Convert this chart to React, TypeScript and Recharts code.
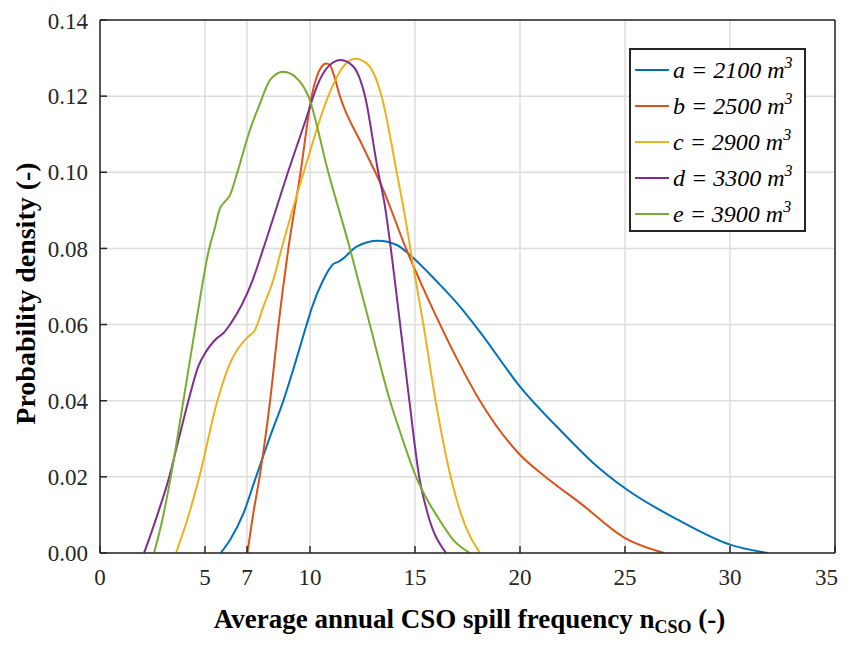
import React from "react";
import { LineChart, Line, XAxis, YAxis, CartesianGrid, Legend, Label } from "recharts";

// axis ticks
const xTicks = [0, 5, 7, 10, 15, 20, 25, 30, 35];
const yTicks = [0, 0.02, 0.04, 0.06, 0.08, 0.1, 0.12, 0.14];

// legend
const seriesKeys = ["a", "b", "c", "d", "e"];
const volumes = [2100, 2500, 2900, 3300, 3900];
const colors = ["#0072BD", "#D95319", "#EDB120", "#7E2F8E", "#77AC30"];

// kernel density curves, [spill frequency, density]
const curveA: [number, number][] = [
  [5.75, 0], [6.19, 0.0034], [6.83, 0.0104], [7.38, 0.0192], [8.1, 0.0306], [8.73, 0.04],
  [9.3, 0.05], [9.84, 0.06], [10.08, 0.0643], [10.63, 0.0717], [11.11, 0.0759], [11.35, 0.0765],
  [11.59, 0.0774], [12.22, 0.0805], [13.25, 0.082], [14.13, 0.0809], [14.76, 0.0783],
  [16.06, 0.0712], [17.14, 0.0647], [18.09, 0.0581], [20, 0.0437], [22.07, 0.0314],
  [23.5, 0.0236], [25, 0.017], [27.66, 0.0083], [30, 0.0022], [31.8, 0],
];
const curveB: [number, number][] = [
  [7.02, 0], [7.3, 0.0104], [7.6, 0.02], [8.1, 0.04], [8.5, 0.06], [8.97, 0.08], [9.55, 0.1],
  [10.08, 0.12], [10.56, 0.1278], [10.76, 0.1286], [10.95, 0.1282], [11.11, 0.126],
  [11.43, 0.1199], [12.5, 0.107], [13.49, 0.0954], [14.57, 0.08], [15.87, 0.0638],
  [17.0, 0.051], [18.09, 0.04], [20, 0.0258], [21.28, 0.0197], [22.87, 0.0131],
  [25, 0.0039], [26.86, 0],
];
const curveC: [number, number][] = [
  [3.62, 0], [4.2, 0.0095], [4.73, 0.02], [5.59, 0.04], [6.19, 0.0498], [6.83, 0.0555],
  [7.06, 0.0568], [7.38, 0.0586], [7.78, 0.0647], [8.25, 0.0717], [8.65, 0.08], [9.7, 0.1],
  [10.87, 0.12], [11.59, 0.1278], [12.14, 0.1298], [12.7, 0.1286], [13.41, 0.12],
  [14.13, 0.1], [14.44, 0.091], [15.0, 0.0727], [15.4, 0.06], [15.98, 0.04],
  [16.7, 0.02], [17.18, 0.0104], [18.1, 0],
];
const curveD: [number, number][] = [
  [2.1, 0], [2.7, 0.0095], [3.3, 0.02], [3.75, 0.03], [4.21, 0.04], [4.68, 0.049], [5.05, 0.0529],
  [5.4, 0.0555], [5.63, 0.0567], [5.87, 0.0577], [6.19, 0.06], [7.27, 0.0717], [7.78, 0.08],
  [8.95, 0.1], [10.0, 0.1172], [10.16, 0.12], [10.79, 0.1273], [11.46, 0.1295],
  [12.06, 0.1278], [12.62, 0.12], [13.25, 0.1], [13.52, 0.0927], [14.21, 0.0638],
  [14.73, 0.04], [15.2, 0.02], [15.6, 0.0104], [16.48, 0],
];
const curveE: [number, number][] = [
  [2.57, 0], [2.94, 0.008], [3.37, 0.02], [3.97, 0.04], [4.56, 0.06], [5.2, 0.08],
  [5.45, 0.085], [5.71, 0.0905], [5.95, 0.0923], [6.19, 0.094], [6.54, 0.1], [7.14, 0.1111],
  [7.62, 0.1181], [8.1, 0.1243], [8.73, 0.1264], [9.37, 0.1247], [9.92, 0.12], [10.87, 0.1],
  [11.9, 0.08], [12.85, 0.06], [13.81, 0.04], [14.4, 0.03], [15.05, 0.02], [15.6, 0.0138],
  [16.11, 0.0092], [16.83, 0.0034], [17.62, 0],
];

const curves = [curveA, curveB, curveC, curveD, curveE];

const axisColor = "#262626";
const serif = '"Liberation Serif", "Times New Roman", serif';

const toRows = (pts: [number, number][]) => pts.map(([x, y]) => ({ x, y }));

const YTitle = (props: any) => {
  const vb = props.viewBox;
  const cx = vb.x + 17;
  const cy = vb.y + vb.height / 2 + 7;
  return (
    <text
      x={cx}
      y={cy}
      transform={`rotate(-90 ${cx} ${cy})`}
      textAnchor="middle"
      dominantBaseline="central"
      fontFamily={serif}
      fontWeight="bold"
      fontSize={28}
      fill="#000"
    >
      Probability density (-)
    </text>
  );
};

const XTitle = (props: any) => {
  const vb = props.viewBox;
  const cx = vb.x + vb.width / 2 + 2;
  return (
    <text x={cx} y={620} textAnchor="middle" fontFamily={serif} fontWeight="bold" fontSize={27} fill="#000">
      Average annual CSO spill frequency n
      <tspan fontSize={18} dy={5}>CSO</tspan>
      <tspan dy={-5}> (-)</tspan>
    </text>
  );
};

const LegendBox = () => (
  <div
    style={{
      width: 177,
      height: 184,
      boxSizing: "border-box",
      border: `2px solid ${axisColor}`,
      background: "#fff",
      paddingTop: 2,
    }}
  >
    {seriesKeys.map((k, i) => (
      <div key={k} style={{ display: "flex", alignItems: "center", height: 36 }}>
        <div style={{ width: 34, height: 2, background: colors[i], marginLeft: 4 }} />
        <div
          style={{
            marginLeft: 4,
            fontFamily: serif,
            fontStyle: "italic",
            fontSize: 24,
            lineHeight: 1,
            color: "#000",
            whiteSpace: "nowrap",
          }}
        >
          {k} = {volumes[i]} m
          <span style={{ fontSize: 16, position: "relative", top: -10 }}>3</span>
        </div>
      </div>
    ))}
  </div>
);

export default function App() {
  return (
    <LineChart width={830} height={630} margin={{ top: 11, right: 2, left: 0, bottom: 0 }}>
      <CartesianGrid stroke="#dcdcdc" strokeWidth={1.5} />
      <XAxis
        xAxisId={0}
        type="number"
        dataKey="x"
        domain={[0, 35]}
        ticks={xTicks}
        allowDataOverflow
        height={85}
        tickSize={-7}
        tickMargin={23}
        axisLine={{ stroke: axisColor, strokeWidth: 1.5 }}
        tickLine={{ stroke: axisColor, strokeWidth: 1.5 }}
        tick={{ fill: axisColor, fontSize: 23, fontFamily: serif }}
      >
        <Label content={<XTitle />} />
      </XAxis>
      <XAxis
        xAxisId="top"
        orientation="top"
        type="number"
        dataKey="x"
        domain={[0, 35]}
        ticks={xTicks}
        allowDataOverflow
        height={1}
        tickSize={-7}
        tick={false}
        axisLine={{ stroke: axisColor, strokeWidth: 1.5 }}
        tickLine={{ stroke: axisColor, strokeWidth: 1.5 }}
      />
      <YAxis
        yAxisId={0}
        type="number"
        domain={[0, 0.14]}
        ticks={yTicks}
        allowDataOverflow
        width={92}
        tickSize={-7}
        tickMargin={19}
        tickFormatter={(v: number) => v.toFixed(2)}
        axisLine={{ stroke: axisColor, strokeWidth: 1.5 }}
        tickLine={{ stroke: axisColor, strokeWidth: 1.5 }}
        tick={{ fill: axisColor, fontSize: 23, fontFamily: serif }}
      >
        <Label content={<YTitle />} />
      </YAxis>
      <YAxis
        yAxisId="right"
        orientation="right"
        type="number"
        domain={[0, 0.14]}
        ticks={yTicks}
        allowDataOverflow
        width={1}
        tickSize={-7}
        tick={false}
        axisLine={{ stroke: axisColor, strokeWidth: 1.5 }}
        tickLine={{ stroke: axisColor, strokeWidth: 1.5 }}
      />
      {curves.map((pts, i) => (
        <Line
          key={seriesKeys[i]}
          data={toRows(pts)}
          dataKey="y"
          name={`${seriesKeys[i]} = ${volumes[i]} m3`}
          type="monotone"
          stroke={colors[i]}
          strokeWidth={2}
          dot={false}
          activeDot={false}
          isAnimationActive={false}
        />
      ))}
      <Legend
        layout="vertical"
        align="center"
        verticalAlign="middle"
        content={<LegendBox />}
        wrapperStyle={{ top: 40, left: 621, width: 177, height: 184 }}
      />
    </LineChart>
  );
}
